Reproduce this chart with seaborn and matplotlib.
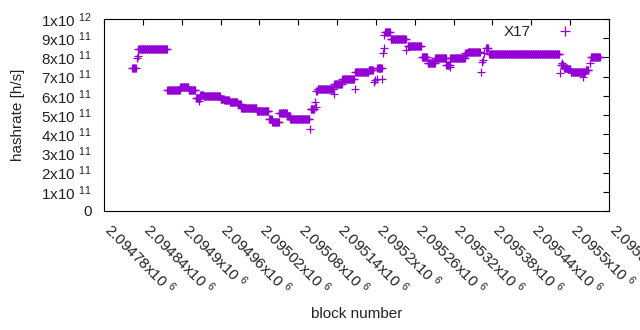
import numpy as np
import pandas as pd

import matplotlib

matplotlib.use("Agg")
import matplotlib.pyplot as plt  # noqa: E402
from matplotlib.lines import Line2D  # noqa: E402
from matplotlib.transforms import ScaledTranslation  # noqa: E402

import seaborn as sns  # noqa: E402

# Step segments of the hashrate estimate: first block, last block, hashrate (x1e11 h/s)
seg_start = [
    2094824, 2094833, 2094878, 2094898, 2094911, 2094922, 2094929, 2094934,
    2094960, 2094966, 2094974, 2094987, 2094992, 2095016, 2095035, 2095040,
    2095051, 2095063, 2095068, 2095099, 2095108, 2095110, 2095136, 2095148,
    2095168, 2095189, 2095202, 2095214, 2095223, 2095249, 2095271, 2095280,
    2095292, 2095309, 2095315, 2095338, 2095342, 2095370, 2095375, 2095486,
    2095490, 2095496, 2095501, 2095524, 2095532,
]
seg_end = [
    2094829, 2094877, 2094897, 2094910, 2094921, 2094928, 2094933, 2094959,
    2094965, 2094973, 2094986, 2094991, 2095015, 2095034, 2095039, 2095050,
    2095062, 2095067, 2095097, 2095105, 2095109, 2095134, 2095147, 2095166,
    2095188, 2095195, 2095209, 2095221, 2095246, 2095270, 2095279, 2095291,
    2095308, 2095314, 2095337, 2095341, 2095360, 2095373, 2095483, 2095489,
    2095495, 2095500, 2095523, 2095528, 2095546,
]
seg_value = [
    7.43, 8.42, 6.29, 6.46, 6.29, 5.87, 6.06, 5.97,
    5.85, 5.80, 5.66, 5.56, 5.35, 5.19, 4.78, 4.62,
    5.09, 4.95, 4.78, 5.30, 6.27, 6.34, 6.60, 6.87,
    7.22, 7.34, 7.43, 9.34, 8.94, 8.59, 8.00, 7.69,
    7.95, 7.60, 7.95, 8.21, 8.26, 8.47, 8.16, 7.62,
    7.47, 7.38, 7.22, 7.34, 8.00,
]

# Isolated blocks that sit off their step (x1e11 h/s)
odd_block = [
    2094831, 2094832, 2094927, 2095098, 2095106, 2095107, 2095135, 2095167,
    2095197, 2095198, 2095201, 2095210, 2095211, 2095212, 2095213, 2095247,
    2095314, 2095362, 2095364, 2095365, 2095367, 2095484, 2095487, 2095520,
    2095530,
]
odd_value = [
    7.95, 8.07, 5.73, 4.25, 5.69, 5.43, 6.09, 6.34,
    6.74, 6.82, 6.89, 6.86, 8.25, 8.47, 9.17, 8.39,
    7.48, 7.22, 7.74, 7.86, 8.21, 7.17, 7.69, 7.00,
    7.69,
]

x_ticks = [2094780, 2094840, 2094900, 2094960, 2095020, 2095080, 2095140,
           2095200, 2095260, 2095320, 2095380, 2095440, 2095500, 2095560]
y_ticks = [0, 1e11, 2e11, 3e11, 4e11, 5e11, 6e11, 7e11, 8e11, 9e11, 1e12]

PURPLE = "#9400D3"


def build_frame() -> pd.DataFrame:
    blocks, rates = [], []
    for a, b, v in zip(seg_start, seg_end, seg_value):
        n = b - a + 1
        blocks.extend(range(a, b + 1))
        rates.extend([v * 1e11] * n)
    blocks.extend(odd_block)
    rates.extend(v * 1e11 for v in odd_value)
    return pd.DataFrame({"block": blocks, "hashrate": rates})


def sci_label(v: float) -> str:
    if v == 0:
        return "0"
    exp = int(np.floor(np.log10(abs(v)) + 1e-9))
    mant = v / 10 ** exp
    return f"{mant:g}x10 $^{{{exp}}}$"


def main() -> None:
    sns.set_theme(style="white")
    plt.rcParams["font.family"] = ["Liberation Sans", "DejaVu Sans"]
    plt.rcParams.update(
        {
            "mathtext.fontset": "custom",
            "mathtext.rm": "Liberation Sans",
            "mathtext.it": "Liberation Sans:italic",
            "mathtext.default": "regular",
            "axes.edgecolor": "black",
            "axes.linewidth": 0.8,
        }
    )

    df = build_frame()

    fig = plt.figure(figsize=(6.4, 3.3), dpi=100)
    ax = fig.add_axes([104 / 640, 1 - 211 / 330, 505 / 640, 192 / 330])

    sns.scatterplot(
        data=df, x="block", y="hashrate", ax=ax,
        marker="+", s=26, linewidth=0.9, color=PURPLE, legend=False,
    )

    ax.set_xlim(x_ticks[0], x_ticks[-1])
    ax.set_ylim(y_ticks[0], y_ticks[-1])
    ax.set_xticks(x_ticks)
    ax.set_yticks(y_ticks)
    ax.set_xticklabels([sci_label(v) for v in x_ticks], rotation=-45,
                       ha="left", va="top", rotation_mode="anchor", fontsize=11)
    ax.set_yticklabels([sci_label(v) for v in y_ticks], fontsize=11)
    ax.tick_params(axis="both", direction="in", length=4, width=0.8,
                   top=True, right=True, color="black", labelcolor="#222222")
    ax.tick_params(axis="x", pad=9)
    ax.tick_params(axis="y", pad=9)
    # shift the slanted labels so each one starts right at its tick
    shift = ScaledTranslation(0.10, 0.04, fig.dpi_scale_trans)
    for lbl in ax.get_xticklabels():
        lbl.set_transform(lbl.get_transform() + shift)
    for sp in ax.spines.values():
        sp.set_visible(True)
        sp.set_color("black")

    ax.set_xlabel("block number", fontsize=11, labelpad=7, color="#222222")
    ax.set_ylabel("hashrate [h/s]", fontsize=11, labelpad=11, color="#222222")

    handle = Line2D([], [], linestyle="none", marker="+", markersize=7,
                    markeredgewidth=0.9, color=PURPLE)
    ax.legend([handle], ["X17"], loc="upper right", bbox_to_anchor=(0.965, 1.025),
              frameon=False, markerfirst=False, fontsize=11,
              handlelength=2.0, handletextpad=1.3, borderaxespad=0.3)

    fig.savefig("out.png", dpi=100)
    plt.close(fig)


if __name__ == "__main__":
    main()
